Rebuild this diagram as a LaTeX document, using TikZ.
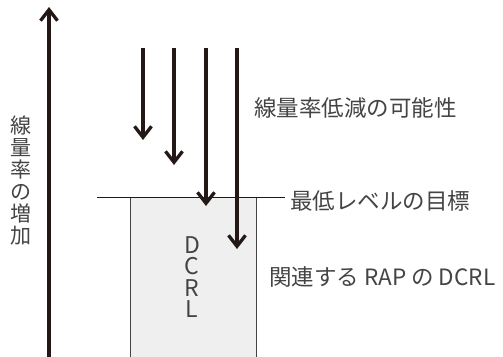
\documentclass[tikz,border=0pt]{standalone}
\usepackage{fontspec}
\newfontfamily\cjk{Noto Sans CJK JP}
\usetikzlibrary{arrows.meta}
\definecolor{ink}{HTML}{231815}
\definecolor{txt}{HTML}{444444}
\definecolor{boxfill}{HTML}{EFEFEF}
\begin{document}
\begin{tikzpicture}[x=1pt,y=-1pt,
  bigarrow/.style={draw=ink,line width=3.3pt,-{Straight Barb[length=11pt,width=17pt,line width=3.3pt]}},
  lbl/.style={text=txt,font=\cjk\fontsize{22.5}{26}\selectfont,inner sep=0pt},
  vlbl/.style={text=txt,font=\cjk\fontsize{21}{22}\selectfont,inner sep=0pt,align=center},
  dlbl/.style={text=txt,font=\cjk\fontsize{23}{21.5}\selectfont,inner sep=0pt,align=center}]
\useasboundingbox (0,0) rectangle (503,356);
% DCRL box
\node[draw=txt,fill=boxfill,line width=0.8pt,minimum width=125.5pt,minimum height=170pt,anchor=north west,inner sep=0pt] (box) at (130,197) {};
\node[dlbl] (dcrl) at (192,277) {D\\C\\R\\L};
% target line
\coordinate (tl) at (97,197);
\coordinate (tr) at (285,197);
\draw[ink,line width=0.8pt] (tl) -- (tr);
% increase arrow
\coordinate (ab) at (49,360);
\coordinate (at) at (49,7);
\draw[bigarrow] (ab) -- (at);
\node[vlbl] (inc) at (21,181) {線\\量\\率\\の\\増\\加};
% reduction arrows
\coordinate (s1) at (143,48); \coordinate (e1) at (143,140);
\coordinate (s2) at (174,48); \coordinate (e2) at (174,165);
\coordinate (s3) at (206,48); \coordinate (e3) at (206,206);
\coordinate (s4) at (237,48); \coordinate (e4) at (237,249);
\draw[bigarrow] (s1) -- (e1);
\draw[bigarrow] (s2) -- (e2);
\draw[bigarrow] (s3) -- (e3);
\draw[bigarrow] (s4) -- (e4);
% labels
\node[lbl,anchor=west] (red) at (254,108) {線量率低減の可能性};
\node[lbl,anchor=west] (min) at (290,201) {最低レベルの目標};
\node[lbl,anchor=west] (rap) at (269,277) {関連する RAP の DCRL};
\end{tikzpicture}
\end{document}
